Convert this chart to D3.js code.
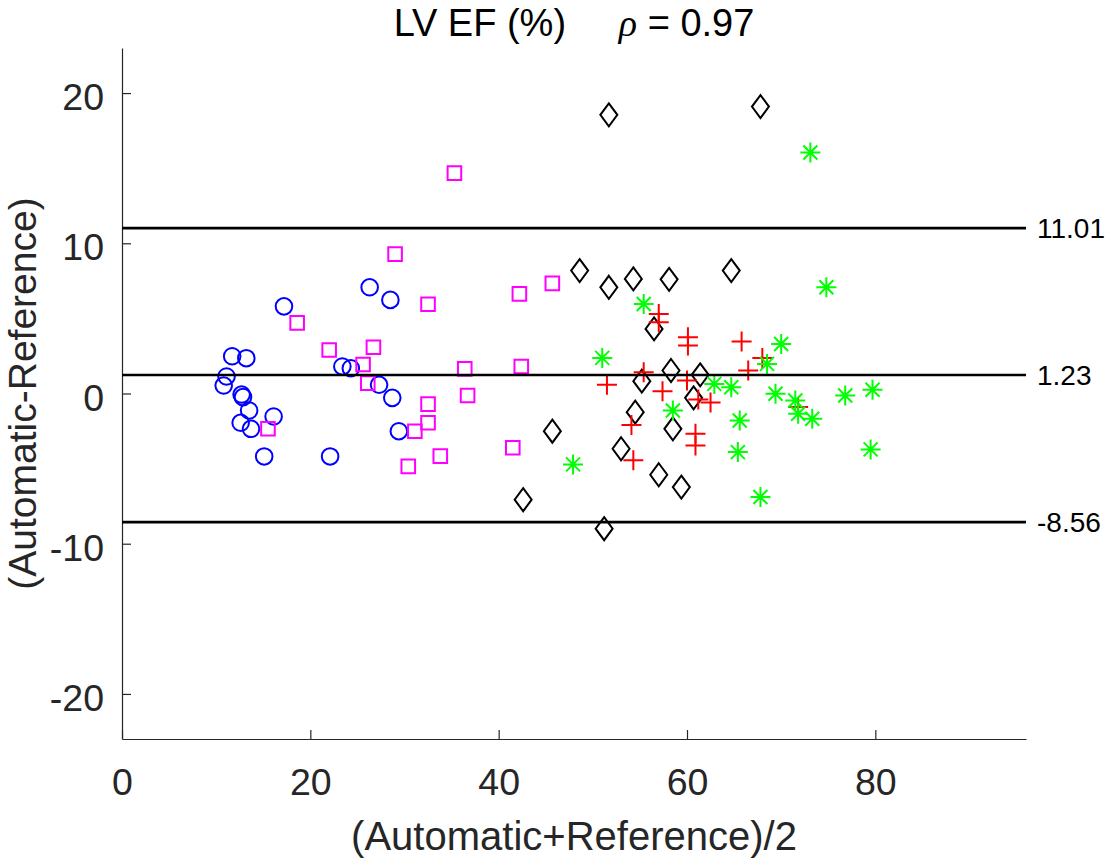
<!DOCTYPE html>
<html>
<head>
<meta charset="utf-8">
<script src="https://cdnjs.cloudflare.com/ajax/libs/d3/7.8.5/d3.min.js"></script>
<style>
    body { margin: 0; background: #fff; }
    svg text { font-family: "Liberation Sans", Arial, Helvetica, sans-serif; }
</style>
</head>
<body>
<div id="wrapper"></div>
<script>
// values: [mean, difference]
const blueCircles = [
    [17.2, 5.80], [26.3, 7.07], [28.5, 6.23], [11.7, 2.48], [13.2, 2.35],
    [11.1, 1.13], [10.8, 0.53], [23.4, 1.80], [24.3, 1.68], [12.7, -0.07],
    [12.85, -0.24], [13.5, -1.13], [16.1, -1.53], [12.6, -1.95], [13.7, -2.35],
    [15.1, -4.19], [22.1, -4.19], [27.3, 0.58], [28.7, -0.29], [29.4, -2.51]
];
const magentaSquares = [
    [35.3, 14.67], [29.0, 9.28], [18.6, 4.70], [22.0, 2.90], [26.7, 3.08],
    [25.6, 1.93], [26.1, 0.69], [15.5, -2.35], [31.1, -2.51], [30.4, -4.85],
    [32.5, 5.94], [42.2, 6.63], [45.7, 7.33], [36.4, 1.64], [42.4, 1.80],
    [36.7, -0.13], [32.5, -0.71], [32.5, -1.95], [33.8, -4.17], [41.5, -3.61]
];
const blackDiamonds = [
    [51.7, 18.55], [67.8, 19.10], [48.6, 8.18], [51.7, 7.07], [54.3, 7.63],
    [58.1, 7.60], [64.7, 8.18], [56.5, 4.30], [58.3, 1.53], [61.4, 1.24],
    [55.2, 0.82], [60.7, -0.29], [54.5, -1.24], [58.5, -2.35], [53.0, -3.68],
    [45.7, -2.51], [57.0, -5.41], [59.4, -6.23], [42.6, -7.07], [51.2, -9.00]
];
const redPluses = [
    [57.0, 5.30], [57.0, 4.74], [60.1, 3.74], [60.1, 3.19], [65.8, 3.46],
    [68.0, 2.37], [66.5, 1.53], [55.4, 1.42], [51.5, 0.58], [60.0, 0.86],
    [57.4, 0.15], [61.2, -0.40], [62.5, -0.60], [54.1, -2.09], [54.3, -4.45],
    [60.9, -2.68], [60.9, -3.46], [71.8, -0.90]
];
const greenStars = [
    [73.1, 16.04], [74.8, 7.07], [70.0, 3.30], [68.5, 1.97], [62.9, 0.64],
    [64.7, 0.42], [69.4, -0.02], [71.5, -0.47], [71.8, -1.35], [73.3, -1.68],
    [76.8, -0.13], [79.7, 0.25], [65.6, -1.80], [65.4, -3.90], [79.5, -3.72],
    [67.8, -6.89], [55.4, 5.96], [51.0, 2.37], [58.5, -1.13], [47.9, -4.72]
];

// mean difference and limits of agreement
const limitValues = [11.01, 1.23, -8.56];
const limitLabels = ["11.01", "1.23", "-8.56"];

const xTicks = [0, 20, 40, 60, 80];
const yTicks = [-20, -10, 0, 10, 20];

function buildPlot() {
    var dimension = {
        width: 1112,
        height: 862,
        margin: {
            top: 48,
            left: 122,
            bottom: 123,
            right: 86
        }
    };
    dimension.boundedWidth = dimension.width - dimension.margin.left - dimension.margin.right;
    dimension.boundedHeight = dimension.height - dimension.margin.top - dimension.margin.bottom;

    const svg = d3.select("#wrapper").append("svg")
        .attr("width", dimension.width)
        .attr("height", dimension.height);

    const xScaler = d3.scaleLinear()
        .domain([0, 96])
        .range([dimension.margin.left, dimension.margin.left + dimension.boundedWidth]);

    const yScaler = d3.scaleLinear()
        .domain([-23, 23])
        .range([dimension.margin.top + dimension.boundedHeight, dimension.margin.top]);

    const axisColor = "#262626";

    // axes, ticks pointing inwards like matlab
    const xAxis = d3.axisBottom(xScaler)
        .tickValues(xTicks)
        .tickFormat(d => String(d))
        .tickSizeInner(-9)
        .tickSizeOuter(0)
        .tickPadding(29);

    const gx = svg.append("g")
        .attr("transform", "translate(0," + yScaler(-23) + ")")
        .call(xAxis);

    const yAxis = d3.axisLeft(yScaler)
        .tickValues(yTicks)
        .tickFormat(d => String(d))
        .tickSizeInner(-9)
        .tickSizeOuter(0)
        .tickPadding(18);

    const gy = svg.append("g")
        .attr("transform", "translate(" + xScaler(0) + ",0)")
        .call(yAxis);

    [gx, gy].forEach(g => {
        g.select(".domain").attr("stroke", axisColor).attr("stroke-width", 1.2);
        g.selectAll(".tick line").attr("stroke", axisColor).attr("stroke-width", 1.2);
        g.selectAll(".tick text")
            .attr("fill", axisColor)
            .style("font-size", "37.5px");
    });
    gy.selectAll(".tick text").attr("dy", "0.44em");

    // marker shapes
    function markerPath(shape) {
        const p = d3.path();
        if (shape === "circle") {
            p.moveTo(8.3, 0);
            p.arc(0, 0, 8.3, 0, 2 * Math.PI);
        } else if (shape === "square") {
            p.rect(-6.8, -6.8, 13.6, 13.6);
        } else if (shape === "diamond") {
            p.moveTo(0, -11.5); p.lineTo(8.5, 0); p.lineTo(0, 11.5); p.lineTo(-8.5, 0); p.closePath();
        } else if (shape === "plus") {
            p.moveTo(-10, 0); p.lineTo(10, 0);
            p.moveTo(0, -10); p.lineTo(0, 10);
        } else if (shape === "star") {
            p.moveTo(-10, 0); p.lineTo(10, 0);
            p.moveTo(0, -10); p.lineTo(0, 10);
            p.moveTo(-7, -7); p.lineTo(7, 7);
            p.moveTo(-7, 7); p.lineTo(7, -7);
        }
        return p.toString();
    }

    const groups = [
        { data: blueCircles, shape: "circle", color: "#0000ff" },
        { data: magentaSquares, shape: "square", color: "#ff00ff" },
        { data: blackDiamonds, shape: "diamond", color: "#000000" },
        { data: redPluses, shape: "plus", color: "#ff0000" },
        { data: greenStars, shape: "star", color: "#00ff00" }
    ];

    const bounded = svg.append("g");

    groups.forEach(grp => {
        bounded.append("g")
            .selectAll("path")
            .data(grp.data)
            .join("path")
            .attr("d", markerPath(grp.shape))
            .attr("transform", d => "translate(" + xScaler(d[0]) + "," + yScaler(d[1]) + ")")
            .attr("fill", "none")
            .attr("stroke", grp.color)
            .attr("stroke-width", 2);
    });

    // limit lines with their values on the right
    bounded.selectAll("line.limit")
        .data(limitValues)
        .join("line")
        .attr("class", "limit")
        .attr("x1", xScaler(0))
        .attr("x2", xScaler(96))
        .attr("y1", d => yScaler(d))
        .attr("y2", d => yScaler(d))
        .attr("stroke", "#000")
        .attr("stroke-width", 2.6);

    svg.selectAll("text.limitLabel")
        .data(limitLabels)
        .join("text")
        .attr("class", "limitLabel")
        .attr("x", xScaler(96) + 11)
        .attr("y", (d, i) => yScaler(limitValues[i]))
        .attr("dy", "0.36em")
        .style("font-size", "28px")
        .attr("fill", "#000")
        .text(d => d);

    // title
    const centerX = (xScaler(0) + xScaler(96)) / 2;
    const title = svg.append("text")
        .attr("x", centerX)
        .attr("y", 36)
        .attr("text-anchor", "middle")
        .style("font-size", "38px")
        .attr("fill", "#000");
    title.append("tspan").text("LV EF (%)\u00a0\u00a0\u00a0\u00a0\u00a0");
    title.append("tspan")
        .style("font-family", "'Liberation Serif', 'DejaVu Serif', serif")
        .style("font-style", "italic")
        .text("\u03c1");
    title.append("tspan").text(" = 0.97");

    // axis labels
    svg.append("text")
        .attr("x", centerX)
        .attr("y", 850)
        .attr("text-anchor", "middle")
        .style("font-size", "40px")
        .attr("fill", axisColor)
        .text("(Automatic+Reference)/2");

    svg.append("text")
        .attr("transform", "translate(36," + yScaler(0) + ") rotate(-90)")
        .attr("text-anchor", "middle")
        .style("font-size", "39px")
        .attr("fill", axisColor)
        .text("(Automatic-Reference)");
}

buildPlot();
</script>
</body>
</html>
